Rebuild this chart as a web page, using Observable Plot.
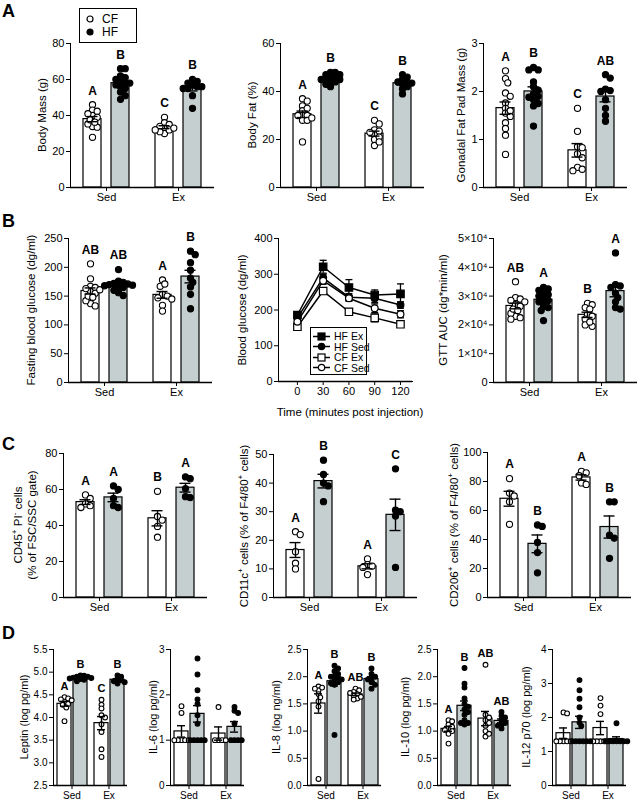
<!DOCTYPE html>
<html><head><meta charset="utf-8">
<script src="https://cdn.jsdelivr.net/npm/d3@7"></script>
<script src="https://cdn.jsdelivr.net/npm/@observablehq/plot@0.6"></script>
<style>
body{margin:0;background:#fff;}
#fig{position:relative;width:640px;height:803px;font-family:"Liberation Sans",Arial,Helvetica,sans-serif;color:#000;overflow:hidden;background:#fff}
.plab{position:absolute;font-weight:bold;font-size:18px;line-height:1}
.ylab{position:absolute;white-space:nowrap;transform:translate(-50%,-50%) rotate(-90deg);text-align:center;line-height:1.2}
.ylab sup{font-size:0.7em;line-height:0}
.legend{position:absolute;border:1.2px solid #000;background:#fff;box-sizing:border-box}
.lrow{position:absolute;left:0;height:12px;display:flex;align-items:center;white-space:nowrap}
.xlab{position:absolute;white-space:nowrap;transform:translate(-50%,-50%)}
</style></head><body><div id="fig"></div>
<script>
// ---------------- DATA ----------------
const groups = ["Sed", "Ex"];
const diets = ["CF", "HF"];
// value lists below are in the order: CF Sed, HF Sed, CF Ex, HF Ex
const cells = [["Sed","CF"],["Sed","HF"],["Ex","CF"],["Ex","HF"]];

const bodyMass = [
  [46,43,42.4,41,40,39,37.6,36.3,35.3,33.9,33.5,27.9],
  [66,66,62,61,60,59,58,58,57,56,55,53,51,49],
  [39,36,35,34,33,33,32,32,31,30],
  [60,59,58,57,56,56,55,55,51,44]
];
const bodyMassLetters = ["A","B","C","B"];

const bodyFat = [
  [37,36,34,33,32,30,30,30,29,28,28,19],
  [48,48,47,47,46,46,45,45,45,44,44,43,42],
  [28,26.5,24,23.5,23,22,21,20,19,17.5],
  [47,46,45,44,44,43.5,43,42,41,39]
];
const bodyFatLetters = ["A","B","C","B"];

const gonadalFat = [
  [2.43,2.27,2.18,1.97,1.9,1.76,1.65,1.6,1.55,1.48,1.35,1.23,1.09,0.69],
  [2.5,2.45,2.45,2.2,2.1,2.03,1.95,1.9,1.88,1.83,1.75,1.7,1.28],
  [1.65,1.17,0.85,0.83,0.7,0.62,0.42,0.38,0.35],
  [2.35,2.28,2.05,2.02,2.0,1.83,1.65,1.5,1.38]
];
const gonadalFatLetters = ["A","B","C","AB"];

const fastingGlucose = [
  [206,180,167,165,163,161,158,155,150,148,142,137,133],
  [196,176,174,172,171,170,169,168,166,165,160,156,151],
  [178,171,167,153,150,147,145,134,124],
  [228,222,208,195,181,174,166,153,128]
];
const fastingGlucoseLetters = ["AB","AB","A","B"];

const gttTimes = [0,30,60,90,120];
const gttNames = ["HF Ex","HF Sed","CF Ex","CF Sed"];
const gttHFEx = [186,321,263,242,245];
const gttHFSed = [178,290,236,233,214];
const gttCFEx = [153,253,195,178,160];
const gttCFSed = [167,282,233,205,188];
const gttHFExSem = [8,18,22,14,28];
const gttHFSedSem = [7,10,10,12,9];
const gttCFExSem = [6,8,6,11,6];
const gttCFSedSem = [6,10,8,12,10];

const gttAuc = [
  [35000,29500,29000,28500,28000,27000,26500,25500,25000,24000,23000,22500,22000],
  [33000,32500,32000,31000,30500,30000,29000,28500,28000,26500,26000,25000,21500],
  [27500,27000,26000,25500,23500,23000,22000,21000,20000,19500],
  [45000,34000,33500,33000,31000,29500,28000,26000,25500]
];
const gttAucLetters = ["AB","A","B","A"];

const cd45 = [
  [57,55,52,51,50],
  [62,60,55,51,50],
  [59,45,43,39.5,33.5],
  [67,66,60.5,56,55.5]
];
const cd45Letters = ["A","A","B","A"];

const cd11c = [
  [23,22,16,12,10],
  [48,43,40,39,33.5],
  [13.5,11.5,11,10.5,8],
  [45,30.5,30,28.5,10.5]
];
const cd11cLetters = ["A","B","A","C"];

const cd206 = [
  [82,72,70,66,50.5],
  [50,49,38,31,17],
  [87,86,84,79,78],
  [66,66,43,41,27]
];
const cd206Letters = ["A","B","A","B"];

const leptin = [
  [4.45,4.42,4.4,4.38,4.35,4.3,4.28,4.22,3.92],
  [4.93,4.92,4.9,4.9,4.88,4.87,4.86,4.85,4.83,4.8],
  [4.39,4.28,4.2,4.05,4.0,3.85,3.68,3.3,3.13],
  [4.93,4.9,4.85,4.82,4.8,4.78,4.75]
];
const leptinLetters = ["A","B","C","B"];

const il6 = [
  [1.75,1.6,1,1,1,1,1],
  [2.8,2.45,2.1,1.9,1.8,1.55,1.36,1,1,1,1,1],
  [1.73,1,1,1,1],
  [1.73,1.65,1.6,1.37,1,1,1,1]
];

const il8 = [
  [1.82,1.8,1.78,1.75,1.68,1.62,1.55,1.45,0.12],
  [2.2,2.15,2.1,2.05,2.0,2.0,1.98,1.95,1.93,1.9,1.88,1.85,0.93],
  [1.78,1.75,1.72,1.7,1.68,1.65,1.63,1.6,1.58],
  [2.15,2.05,2.0,1.98,1.95,1.9,1.85,1.78]
];
const il8Letters = ["A","B","AB","B"];

const il10 = [
  [1.2,1.18,1.12,1.08,1.05,1.02,1.0,0.95,0.77],
  [2.16,1.87,1.8,1.6,1.5,1.45,1.4,1.35,1.3,1.2,1.15,1.15,1.12],
  [2.22,1.3,1.25,1.2,1.15,1.1,1.0,0.95,0.9],
  [1.35,1.28,1.25,1.2,1.15,1.12,1.1,1.05]
];
const il10Letters = ["A","B","AB","AB"];

const il12 = [
  [2.15,2.12,1.3,1.3,1.3,1.3,1.3],
  [3.1,2.8,2.55,2.3,2.0,1.85,1.75,1.3,1.3,1.3,1.3,1.3,1.3],
  [2.57,2.35,2.1,1.3,1.3,1.3,1.3,1.3],
  [1.83,1.3,1.3,1.3,1.3,1.3,1.3,1.3]
];

// ---------------- RENDERING ----------------
const fig = document.getElementById("fig");
const FONT = "'Liberation Sans', Arial, Helvetica, sans-serif";
const GRAY = "#c6cfcf";

function place(el, left, top) {
  el.style.position = "absolute";
  el.style.left = left + "px";
  el.style.top = top + "px";
  fig.appendChild(el);
}
function addDiv(cls, html, css) {
  const d = document.createElement("div");
  d.className = cls;
  d.innerHTML = html;
  Object.assign(d.style, css);
  fig.appendChild(d);
  return d;
}

// beeswarm offsets (pixels) computed from pixel y positions
function swarm(ys, r) {
  const order = d3.range(ys.length).sort((a, b) => ys[a] - ys[b]);
  const placed = [], off = new Array(ys.length).fill(0);
  const s = r * 0.75, minD = r * 1.5;
  const cands = [0];
  for (let j = 1; j < 40; j++) cands.push(j * s, -j * s);
  for (const i of order) {
    for (const c of cands) {
      if (placed.every(p => (p.x - c) ** 2 + (p.y - ys[i]) ** 2 >= minD * minD - 0.01)) { off[i] = c; break; }
    }
    placed.push({x: off[i], y: ys[i]});
  }
  return off;
}

function barPanel(p) {
  const ml = p.ml ?? 34, mr = 2, mt = 20, mb = p.mb ?? 22;
  const plotH = p.bottom - p.top;
  const W = ml + p.w + mr, H = mt + plotH + mb;
  const yPix = d3.scaleLinear(p.domain, [mt + plotH, mt]);
  const rows = [];
  cells.forEach(([g, d], k) => {
    const vals = p.values[k];
    const offs = swarm(vals.map(yPix), p.r);
    vals.forEach((v, i) => rows.push({g, d, v, off: Math.round(offs[i] * 10) / 10}));
  });
  const stats = cells.map(([g, d], k) => {
    const vals = p.values[k];
    const m = d3.mean(vals), s = d3.deviation(vals) / Math.sqrt(vals.length);
    return {g, d, lo: m - s, hi: m + s, top: Math.max(d3.max(vals), m + s), letter: p.letters ? p.letters[k] : ""};
  });
  const marks = [];
  for (const [diet, fill] of [["CF", "white"], ["HF", GRAY]]) {
    marks.push(Plot.barY(rows.filter(r => r.d === diet),
      Plot.groupX({y: "mean"}, {fx: "g", x: "d", y: "v", fill, stroke: "black", strokeWidth: 1.2, clip: true})));
  }
  for (const [diet, fill] of [["CF", "white"], ["HF", "black"]]) {
    const sub = rows.filter(r => r.d === diet);
    for (const o of new Set(sub.map(r => r.off))) {
      marks.push(Plot.dot(sub.filter(r => r.off === o),
        {fx: "g", x: "d", y: "v", dx: o, r: p.r, fill, stroke: "black", strokeWidth: 1.1}));
    }
  }
  marks.push(Plot.ruleX(stats, {fx: "g", x: "d", y1: "lo", y2: "hi", stroke: "black", strokeWidth: 1.4}));
  marks.push(Plot.tickY(stats, {fx: "g", x: "d", y: "hi", insetLeft: p.cap, insetRight: p.cap, stroke: "black", strokeWidth: 1.4}));
  marks.push(Plot.tickY(stats, {fx: "g", x: "d", y: "lo", insetLeft: p.cap, insetRight: p.cap, stroke: "black", strokeWidth: 1.4}));
  marks.push(Plot.ruleY([p.domain[0]], {stroke: "black", strokeWidth: 1.3}));
  if (p.letters) {
    marks.push(Plot.text(stats, {fx: "g", x: "d", y: "top", text: "letter", dy: -p.ldy,
      fontWeight: "bold", fontSize: p.lfs, fill: "black"}));
  }
  const svg = Plot.plot({
    width: W, height: H,
    marginLeft: ml, marginRight: mr, marginTop: mt, marginBottom: mb,
    style: {fontFamily: FONT, fontSize: p.fs + "px", background: "none", overflow: "visible", color: "black"},
    fx: {domain: groups, padding: 0, label: null, tickSize: 4, tickPadding: 2, axis: "bottom"},
    x: {domain: diets, paddingInner: p.pi, paddingOuter: p.po, axis: null},
    y: {domain: p.domain, ticks: p.ticks, tickFormat: p.fmt, tickSize: 4, tickPadding: 2, line: true, label: null},
    marks
  });
  place(svg, p.axisX - ml, p.top - mt);
  addDiv("ylab", p.label, {left: p.lx + "px", top: ((p.top + p.bottom) / 2) + "px", fontSize: p.yfs + "px"});
}

const capSymbol = {draw(ctx, size) { const w = Math.sqrt(size / Math.PI); ctx.moveTo(-w, 0); ctx.lineTo(w, 0); }};

function gttPanel(p) {
  const ml = 34, mr = 2, mt = 20, mb = 22;
  const plotH = p.bottom - p.top;
  const means = [gttHFEx, gttHFSed, gttCFEx, gttCFSed];
  const sems = [gttHFExSem, gttHFSedSem, gttCFExSem, gttCFSedSem];
  const styles = [
    {symbol: "square", fill: "black", r: 4.2},
    {symbol: "circle", fill: "black", r: 3.4},
    {symbol: "square", fill: "white", r: 4.2},
    {symbol: "circle", fill: "white", r: 3.4}
  ];
  const rows = [];
  gttNames.forEach((name, k) => gttTimes.forEach((t, i) => rows.push({name, k, t, m: means[k][i], e: sems[k][i]})));
  const marks = [
    Plot.ruleX(rows, {x: "t", y1: d => d.m - d.e, y2: d => d.m + d.e, stroke: "black", strokeWidth: 1.3}),
    Plot.dot(rows, {x: "t", y: d => d.m + d.e, symbol: capSymbol, r: 3.5, fill: "none", stroke: "black", strokeWidth: 1.3}),
    Plot.dot(rows, {x: "t", y: d => d.m - d.e, symbol: capSymbol, r: 3.5, fill: "none", stroke: "black", strokeWidth: 1.3}),
    Plot.line(rows, {x: "t", y: "m", z: "name", stroke: "black", strokeWidth: 1.5}),
    Plot.ruleY([0], {stroke: "black", strokeWidth: 1.3})
  ];
  styles.forEach((st, k) => {
    marks.push(Plot.dot(rows.filter(d => d.k === k), {x: "t", y: "m", symbol: st.symbol, r: st.r, fill: st.fill, stroke: "black", strokeWidth: 1.2}));
  });
  const svg = Plot.plot({
    width: ml + p.w + mr, height: mt + plotH + mb,
    marginLeft: ml, marginRight: mr, marginTop: mt, marginBottom: mb,
    style: {fontFamily: FONT, fontSize: "11px", background: "none", overflow: "visible", color: "black"},
    x: {domain: [-22, 134], ticks: gttTimes, tickSize: 4, tickPadding: 2, line: true, label: null},
    y: {domain: [0, 400], ticks: [0, 100, 200, 300, 400], tickSize: 4, tickPadding: 2, line: true, label: null},
    marks
  });
  place(svg, p.axisX - ml, p.top - mt);
  addDiv("ylab", "Blood glucose (dg/ml)", {left: p.lx + "px", top: ((p.top + p.bottom) / 2) + "px", fontSize: "11.5px"});
  addDiv("xlab", "Time (minutes post injection)", {left: "350px", top: "412px", fontSize: "11.5px"});
  // legend inside plot
  const lg = addDiv("legend", "", {left: "310px", top: "327px", width: "57px", height: "48px"});
  styles.forEach((st, k) => {
    const row = document.createElement("div");
    row.className = "lrow";
    row.style.top = (2 + k * 10.5) + "px";
    const shape = st.symbol === "square"
      ? `<rect x="6" y="2" width="7" height="7" fill="${st.fill}" stroke="black" stroke-width="1.2"/>`
      : `<circle cx="9.5" cy="5.5" r="3.2" fill="${st.fill}" stroke="black" stroke-width="1.2"/>`;
    row.innerHTML = `<svg width="20" height="11" style="margin-left:1px"><line x1="1" x2="18" y1="5.5" y2="5.5" stroke="black" stroke-width="1.5"/>${shape}</svg><span style="font-size:10.5px;margin-left:2px">${gttNames[k]}</span>`;
    lg.appendChild(row);
  });
}

// ---------------- LAYOUT ----------------
const big = {w: 144, pi: 0.345, po: 0.414, r: 3.1, cap: 3.5, ldy: 14, lfs: 12, fs: 11, yfs: 11.5};
const small = {w: 74, pi: 0.152, po: 0.197, r: 2.4, cap: 3, ldy: 11, lfs: 11, fs: 10, yfs: 11, ml: 26, mb: 18};
const f0 = d3.format("d"), f1 = d3.format(".1f");
const sci = d => d === 0 ? "0" : (d / 1e4) + "×10⁴";

barPanel({...big, values: bodyMass, letters: bodyMassLetters, axisX: 70, top: 43, bottom: 187,
  domain: [0, 80], ticks: [0, 20, 40, 60, 80], fmt: f0, label: "Body Mass (g)", lx: 43});
barPanel({...big, values: bodyFat, letters: bodyFatLetters, axisX: 280, top: 43, bottom: 187,
  domain: [0, 60], ticks: [0, 20, 40, 60], fmt: f0, label: "Body Fat (%)", lx: 253});
barPanel({...big, values: gonadalFat, letters: gonadalFatLetters, axisX: 483, top: 43, bottom: 187,
  domain: [0, 3], ticks: [0, 1, 2, 3], fmt: f0, label: "Gonadal Fat Pad Mass (g)", lx: 462, ml: 26});

barPanel({...big, values: fastingGlucose, letters: fastingGlucoseLetters, axisX: 68, top: 238, bottom: 382,
  domain: [0, 250], ticks: [0, 50, 100, 150, 200, 250], fmt: f0, label: "Fasting blood glucose (dg/ml)", lx: 32});
gttPanel({axisX: 278, top: 238, bottom: 381, w: 134, lx: 243});
barPanel({...big, values: gttAuc, letters: gttAucLetters, axisX: 493, top: 238, bottom: 382, ml: 44,
  domain: [0, 50000], ticks: [0, 10000, 20000, 30000, 40000, 50000], fmt: sci, label: "GTT AUC (dg*min/ml)", lx: 444});

barPanel({...big, values: cd45, letters: cd45Letters, axisX: 63, top: 453, bottom: 597,
  domain: [0, 80], ticks: [0, 20, 40, 60, 80], fmt: f0, label: "CD45<sup>+</sup> PI<sup>-</sup> cells<br>(% of FSC/SSC gate)", lx: 26, ml: 28});
barPanel({...big, values: cd11c, letters: cd11cLetters, axisX: 273, top: 454, bottom: 597,
  domain: [0, 50], ticks: [0, 10, 20, 30, 40, 50], fmt: f0, label: "CD11c<sup>+</sup> cells (% of F4/80<sup>+</sup> cells)", lx: 245, ml: 28});
barPanel({...big, values: cd206, letters: cd206Letters, axisX: 487, top: 452, bottom: 597,
  domain: [0, 100], ticks: [0, 20, 40, 60, 80, 100], fmt: f0, label: "CD206<sup>+</sup> cells (% of F4/80<sup>+</sup> cells)", lx: 455, ml: 30});

barPanel({...small, values: leptin, letters: leptinLetters, axisX: 53, top: 649, bottom: 785,
  domain: [2.5, 5.5], ticks: [2.5, 3, 3.5, 4, 4.5, 5, 5.5], fmt: f1, label: "Leptin (log pg/ml)", lx: 25});
barPanel({...small, values: il6, letters: null, axisX: 170, top: 649, bottom: 785,
  domain: [0, 3], ticks: [0, 1, 2, 3], fmt: f0, label: "IL-6 (log pg/ml)", lx: 154});
barPanel({...small, values: il8, letters: il8Letters, axisX: 307, top: 649, bottom: 785,
  domain: [0, 2.5], ticks: [0, 0.5, 1, 1.5, 2, 2.5], fmt: f1, label: "IL-8 (log ng/ml)", lx: 277});
barPanel({...small, values: il10, letters: il10Letters, axisX: 437, top: 649, bottom: 785,
  domain: [0, 2.5], ticks: [0, 0.5, 1, 1.5, 2, 2.5], fmt: f1, label: "IL-10 (log pg/ml)", lx: 406});
barPanel({...small, values: il12, letters: null, axisX: 552, top: 649, bottom: 785,
  domain: [0, 4], ticks: [0, 1, 2, 3, 4], fmt: f0, label: "IL-12 p70 (log pg/ml)", lx: 527});

// panel letters
[["A", 2, 2], ["B", 2, 212], ["C", 2, 435], ["D", 2, 624]].forEach(([t, x, y]) =>
  addDiv("plab", t, {left: x + "px", top: y + "px"}));

// legend for panel A
const legendItems = [["CF", "white"], ["HF", "black"]];
const lgA = addDiv("legend", "", {left: "79px", top: "8px", width: "58px", height: "35px"});
legendItems.forEach(([name, fill], k) => {
  const row = document.createElement("div");
  row.className = "lrow";
  row.style.top = (4 + k * 13) + "px";
  row.innerHTML = `<svg width="18" height="12"><circle cx="10" cy="6" r="3" fill="${fill}" stroke="black" stroke-width="1.2"/></svg><span style="font-size:12px;margin-left:4px">${name}</span>`;
  lgA.appendChild(row);
});
</script></body></html>
